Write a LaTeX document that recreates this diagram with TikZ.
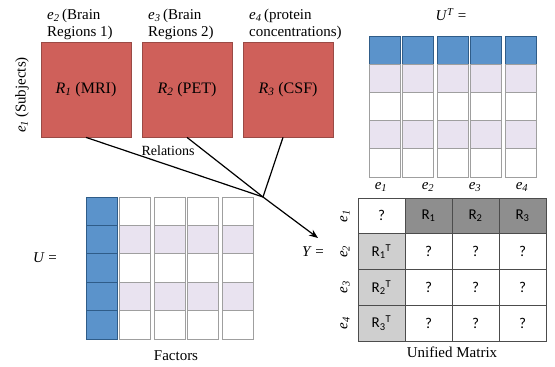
\documentclass[tikz,border=0pt]{standalone}
\usepackage{fontspec}
\setmainfont{Liberation Serif}
\newfontfamily\cellfont{Carlito}
\usetikzlibrary{arrows.meta}
\definecolor{redbox}{HTML}{CF605A}
\definecolor{redborder}{HTML}{9A4A45}
\definecolor{bluecell}{HTML}{5B93CB}
\definecolor{blueborder}{HTML}{2F5C88}
\definecolor{lavcell}{HTML}{E9E3F0}
\definecolor{darkcell}{HTML}{8E8E8E}
\definecolor{lightcell}{HTML}{CFCFCF}
\newcommand{\ent}[2]{\textit{#1}\textsubscript{\textit{#2}}}
\tikzset{
  relbox/.style={draw=redborder, fill=redbox, line width=0.8pt, minimum width=90pt, minimum height=95pt, inner sep=0pt, font=\fontsize{16}{18}\selectfont},
  toplabel/.style={align=left, anchor=north west, inner sep=0pt, font=\fontsize{15}{17}\selectfont},
  lbl/.style={inner sep=0pt, font=\fontsize{15}{17}\selectfont},
  cellw/.style={draw=gray!75, fill=white, line width=0.9pt},
  cellb/.style={draw=blueborder, fill=bluecell, line width=0.9pt},
  celll/.style={draw=gray!75, fill=lavcell, line width=0.9pt},
  ucell/.style={draw=black!70, line width=0.7pt, minimum width=47pt, minimum height=35.75pt, inner sep=0pt, font=\cellfont\fontsize{15}{17}\selectfont},
  conn/.style={line width=1.2pt, black},
}
\begin{document}
\begin{tikzpicture}[x=1pt,y=-1pt]
\useasboundingbox (0,0) rectangle (555,367);
% relation boxes
\node[relbox] (r1) at (86,89.5) {\ent{R}{1} (MRI)};
\node[relbox] (r2) at (187,89.5) {\ent{R}{2} (PET)};
\node[relbox] (r3) at (288,89.5) {\ent{R}{3} (CSF)};
\node[toplabel] (l2) at (47,9) {\ent{e}{2}\,(Brain\\Regions 1)};
\node[toplabel] (l3) at (148,9) {\ent{e}{3}\,(Brain\\Regions 2)};
\node[toplabel] (l4) at (249,9) {\ent{e}{4}\,(protein\\concentrations)};
\node[lbl, rotate=90] (l1) at (22,95) {\ent{e}{1}\,(Subjects)};
\node[lbl, font=\fontsize{14}{16}\selectfont] (rel) at (168,151) {Relations};
% connectors
\coordinate (conv) at (263,197);
\coordinate (yend) at (318,238);
\draw[conn] (r1.south) -- (conv);
\draw[conn] (r2.south) -- (conv);
\draw[conn] ([xshift=-5pt]r3.south) -- (conv);
\draw[conn, -{Stealth[length=9pt,width=7pt]}] (conv) -- (yend);
% U^T matrix
\node[lbl] (utl) at (451,15) {\textit{U}\textsuperscript{\textit{T}} =};
\foreach \x in {369,402,437,470,505}{
  \foreach \r/\st in {0/cellb,1/celll,2/cellw,3/celll,4/cellw}{
    \draw[\st] (\x,{36+28.2*\r}) rectangle ++(31,28.2);
  }
}
% U matrix
\node[lbl] (ul) at (45,258) {\textit{U} =};
\foreach \r/\st in {0/cellw,1/celll,2/cellw,3/celll,4/cellw}{
  \draw[cellb] (86,{197+28.4*\r}) rectangle ++(31,28.4);
  \foreach \x in {119,154,187,222}{
    \draw[\st] (\x,{197+28.4*\r}) rectangle ++(31,28.4);
  }
}
\node[lbl] (fac) at (176,356) {Factors};
% unified matrix
\node[lbl] (yl) at (313,252) {\textit{Y} =};
\node[ucell, fill=white] (c11) at (381.5,215.9) {?};
\node[ucell, fill=darkcell] (c12) at (428.5,215.9) {R\textsubscript{1}};
\node[ucell, fill=darkcell] (c13) at (475.5,215.9) {R\textsubscript{2}};
\node[ucell, fill=darkcell] (c14) at (522.5,215.9) {R\textsubscript{3}};
\node[ucell, fill=lightcell] (c21) at (381.5,251.6) {R\textsubscript{1}\textsuperscript{T}};
\node[ucell, fill=lightcell] (c31) at (381.5,287.4) {R\textsubscript{2}\textsuperscript{T}};
\node[ucell, fill=lightcell] (c41) at (381.5,323.1) {R\textsubscript{3}\textsuperscript{T}};
\foreach \r/\y in {2/251.6,3/287.4,4/323.1}{
  \foreach \c/\x in {2/428.5,3/475.5,4/522.5}{
    \node[ucell, fill=white] (c\r\c) at (\x,\y) {?};
  }
}
\foreach \i/\x in {1/381,2/428,3/475,4/522}{
  \node[lbl] (h\i) at (\x,187) {\ent{e}{\i}};
}
\foreach \i/\y in {1/215.9,2/251.6,3/287.4,4/323.1}{
  \node[lbl, rotate=90] (v\i) at (345,\y) {\ent{e}{\i}};
}
\node[lbl] (um) at (452,352) {Unified Matrix};
\end{tikzpicture}
\end{document}
